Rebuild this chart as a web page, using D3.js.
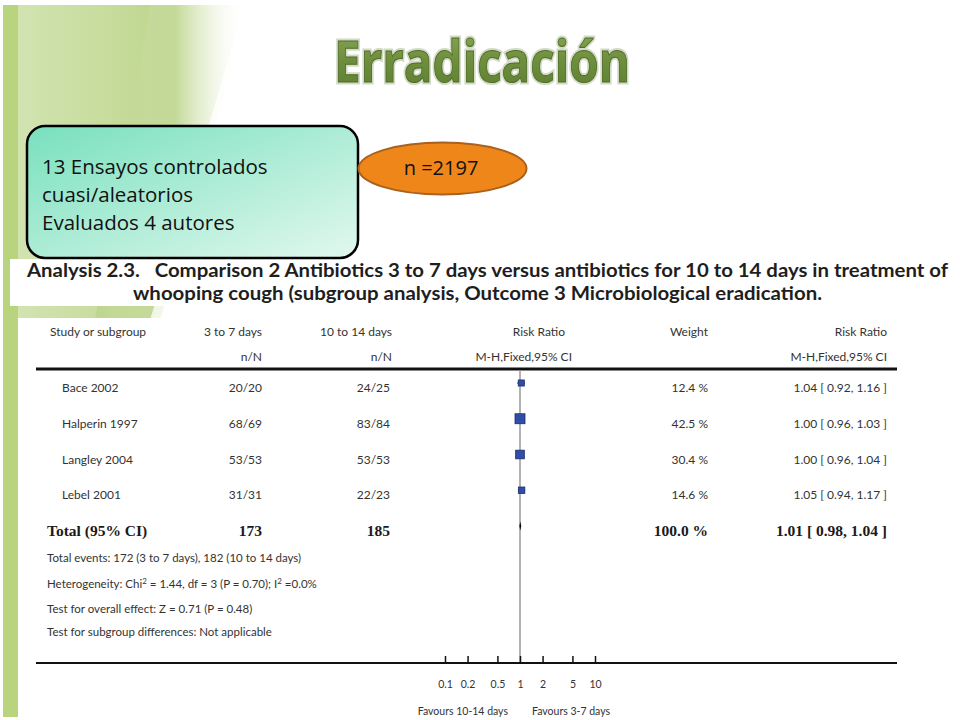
<!DOCTYPE html>
<html><head><meta charset="utf-8">
<script src="https://cdn.jsdelivr.net/npm/d3@7"></script>
<style>body{margin:0;background:#fff}svg{display:block}</style>
</head><body>
<svg id="c" width="960" height="720"></svg>
<script>
// ---- data ----
const studies = ["Bace 2002", "Halperin 1997", "Langley 2004", "Lebel 2001"];
const events37 = ["20/20", "68/69", "53/53", "31/31"];
const events1014 = ["24/25", "83/84", "53/53", "22/23"];
const weights = [12.4, 42.5, 30.4, 14.6];
const rr = [1.04, 1.00, 1.00, 1.05];
const rrLo = [0.92, 0.96, 0.96, 0.94];
const rrHi = [1.16, 1.03, 1.04, 1.17];
const totalN = ["173", "185"];
const totalWeight = 100.0;
const totalRR = [1.01, 0.98, 1.04];
const tickValues = [0.1, 0.2, 0.5, 1, 2, 5, 10];
const footnotes = [
  "Total events: 172 (3 to 7 days), 182 (10 to 14 days)",
  "HET",
  "Test for overall effect: Z = 0.71 (P = 0.48)",
  "Test for subgroup differences: Not applicable"
];
const boxLines = ["13 Ensayos controlados", "cuasi/aleatorios", "Evaluados 4 autores"];

const svg = d3.select("#c");
const defs = svg.append("defs");

// gradients
const g1 = defs.append("linearGradient").attr("id","deco").attr("x1","0").attr("x2","1").attr("y1","0").attr("y2","0");
g1.append("stop").attr("offset","0").attr("stop-color","#d3e4b2");
g1.append("stop").attr("offset","0.45").attr("stop-color","#c6db9b");
g1.append("stop").attr("offset","0.7").attr("stop-color","#bcd48a");
g1.append("stop").attr("offset","1").attr("stop-color","#ffffff").attr("stop-opacity","0");
const g2 = defs.append("linearGradient").attr("id","boxg").attr("x1","0").attr("x2","1").attr("y1","0").attr("y2","1");
g2.append("stop").attr("offset","0").attr("stop-color","#78e0bd");
g2.append("stop").attr("offset","1").attr("stop-color","#e2f8ef");
const g3 = defs.append("linearGradient").attr("id","titleg").attr("x1","0").attr("x2","0").attr("y1","0").attr("y2","1");
g3.append("stop").attr("offset","0").attr("stop-color","#8fae5c");
g3.append("stop").attr("offset","0.5").attr("stop-color","#6f8f3f");
g3.append("stop").attr("offset","1").attr("stop-color","#5b7a2e");
const g4 = defs.append("linearGradient").attr("id","band").attr("x1","0").attr("x2","1").attr("y1","0").attr("y2","0");
g4.append("stop").attr("offset","0").attr("stop-color","#b3ce7c").attr("stop-opacity","0.5");
g4.append("stop").attr("offset","1").attr("stop-color","#ffffff").attr("stop-opacity","0");

// background decorations
svg.append("polygon").attr("points","10,5 245,5 150,320 10,320").attr("fill","url(#deco)");
svg.append("polygon").attr("points","150,5 250,5 160,320 95,320").attr("fill","url(#band)");
svg.append("rect").attr("x",3).attr("y",5).attr("width",15).attr("height",712).attr("fill","#b9d47f");

// Title
const title = svg.append("g");
title.append("text").attr("x",482).attr("y",82).attr("text-anchor","middle")
  .attr("font-family","Open Sans").attr("font-weight","bold").attr("font-size",58)
  .attr("textLength",296).attr("lengthAdjust","spacingAndGlyphs")
  .attr("fill","none").attr("stroke","#d3dac8").attr("stroke-width",5).text("Erradicación");
title.append("text").attr("x",482).attr("y",82).attr("text-anchor","middle")
  .attr("font-family","Open Sans").attr("font-weight","bold").attr("font-size",58)
  .attr("textLength",296).attr("lengthAdjust","spacingAndGlyphs")
  .attr("fill","url(#titleg)").attr("stroke","#4f6d24").attr("stroke-width",1).text("Erradicación");

// analysis title white box
svg.append("rect").attr("x",10).attr("y",259).attr("width",950).attr("height",47).attr("fill","#fff");
// forest panel
svg.append("rect").attr("x",18).attr("y",318).attr("width",942).attr("height",402).attr("fill","#fff");

// Info box
svg.append("rect").attr("x",27).attr("y",126).attr("width",331).attr("height",132).attr("rx",18)
  .attr("fill","url(#boxg)").attr("stroke","#000").attr("stroke-width",2.5);
svg.append("g").selectAll("text").data(boxLines).join("text")
  .attr("x",42).attr("y",(d,i)=>174 + i*28)
  .attr("font-family","Open Sans").attr("font-size",20.5).attr("fill","#111").text(d=>d);

// ellipse
svg.append("ellipse").attr("cx",442.5).attr("cy",168.5).attr("rx",84).attr("ry",26)
  .attr("fill","#ef861a").attr("stroke","#a9611f").attr("stroke-width",2);
svg.append("text").attr("x",441).attr("y",175).attr("text-anchor","middle")
  .attr("font-family","Open Sans").attr("font-size",20).attr("fill","#111").text("n =2197");

// Analysis title
svg.append("text").attr("x",27).attr("y",277).attr("font-family","Lato").attr("font-weight","bold")
  .attr("font-size",18.5).attr("fill","#1e1e1e").attr("textLength",921).attr("lengthAdjust","spacingAndGlyphs")
  .attr("xml:space","preserve")
  .text("Analysis 2.3.   Comparison 2 Antibiotics 3 to 7 days versus antibiotics for 10 to 14 days in treatment of");
svg.append("text").attr("x",133).attr("y",300).attr("font-family","Lato").attr("font-weight","bold")
  .attr("font-size",18.5).attr("fill","#1e1e1e").attr("textLength",689).attr("lengthAdjust","spacingAndGlyphs")
  .text("whooping cough (subgroup analysis, Outcome 3 Microbiological eradication.");

// ---- forest plot ----
const x = d3.scaleLog().domain([0.1, 10]).range([445, 595]);
const yRow = d3.scalePoint().domain(d3.range(5)).range([388, 531]);
const font = "Lato";
const txt = (sel) => sel.attr("font-family", font).attr("font-size", 12).attr("fill", "#333");

// headers
const hdr = [
  ["Study or subgroup", 50, 332, "start"], ["3 to 7 days", 262, 332, "end"], ["10 to 14 days", 392, 332, "end"],
  ["Risk Ratio", 565, 332, "end"], ["Weight", 708, 332, "end"], ["Risk Ratio", 887, 332, "end"],
  ["n/N", 262, 357, "end"], ["n/N", 392, 357, "end"], ["M-H,Fixed,95% CI", 572, 357, "end"], ["M-H,Fixed,95% CI", 887, 357, "end"]
];
svg.append("g").selectAll("text").data(hdr).join("text").call(txt)
  .attr("x", d => d[1]).attr("y", d => d[2] + 4).attr("text-anchor", d => d[3]).text(d => d[0]);

svg.append("line").attr("x1",36).attr("x2",897).attr("y1",369).attr("y2",369).attr("stroke","#111").attr("stroke-width",3);

// vertical line of no effect
svg.append("line").attr("x1",x(1)).attr("x2",x(1)).attr("y1",370).attr("y2",663).attr("stroke","#9a9a9a").attr("stroke-width",1.5);

const fmt2 = d3.format(".2f");
const side = w => 1.3*Math.sqrt(w) + 1.5;
const rows = svg.append("g").selectAll("g").data(studies).join("g");
rows.append("text").call(txt).attr("x",62).attr("y",(d,i)=>yRow(i)+4).text(d=>d);
rows.append("text").call(txt).attr("x",262).attr("y",(d,i)=>yRow(i)+4).attr("text-anchor","end").text((d,i)=>events37[i]);
rows.append("text").call(txt).attr("x",390).attr("y",(d,i)=>yRow(i)+4).attr("text-anchor","end").text((d,i)=>events1014[i]);
rows.append("text").call(txt).attr("x",708).attr("y",(d,i)=>yRow(i)+4).attr("text-anchor","end").text((d,i)=>weights[i].toFixed(1)+" %");
rows.append("text").call(txt).attr("x",887).attr("y",(d,i)=>yRow(i)+4).attr("text-anchor","end")
  .text((d,i)=>`${fmt2(rr[i])} [ ${fmt2(rrLo[i])}, ${fmt2(rrHi[i])} ]`);
rows.append("line").attr("x1",(d,i)=>x(rrLo[i])).attr("x2",(d,i)=>x(rrHi[i]))
  .attr("y1",(d,i)=>yRow(i)-5).attr("y2",(d,i)=>yRow(i)-5).attr("stroke","#1b2b6e").attr("stroke-width",1.3);
rows.append("rect")
  .attr("x",(d,i)=>x(rr[i]) - side(weights[i])/2)
  .attr("y",(d,i)=>yRow(i) - 5 - side(weights[i])/2)
  .attr("width",(d,i)=>side(weights[i]))
  .attr("height",(d,i)=>side(weights[i]))
  .attr("fill","#2f4ea6").attr("stroke","#1b2b6e").attr("stroke-width",0.8);

// total row
const ty = yRow(4);
const bold = (sel) => sel.attr("font-family","Liberation Serif").attr("font-weight","bold").attr("font-size",15.5).attr("fill","#1a1a1a");
svg.append("text").call(bold).attr("x",47).attr("y",ty+5).text("Total (95% CI)");
svg.append("text").call(bold).attr("x",262).attr("y",ty+5).attr("text-anchor","end").text(totalN[0]);
svg.append("text").call(bold).attr("x",390).attr("y",ty+5).attr("text-anchor","end").text(totalN[1]);
svg.append("text").call(bold).attr("x",708).attr("y",ty+5).attr("text-anchor","end").text(totalWeight.toFixed(1)+" %");
svg.append("text").call(bold).attr("x",887).attr("y",ty+5).attr("text-anchor","end")
  .text(`${fmt2(totalRR[0])} [ ${fmt2(totalRR[1])}, ${fmt2(totalRR[2])} ]`);
const dy = ty - 5;
svg.append("polygon")
  .attr("points", [[x(totalRR[1]),dy],[x(totalRR[0]),dy-4.5],[x(totalRR[2]),dy],[x(totalRR[0]),dy+4.5]].map(p=>p.join(",")).join(" "))
  .attr("fill","#111");

// footnotes
const fy = [558, 584, 609, 632];
const fn = svg.append("g");
footnotes.forEach((t,i)=>{
  const el = fn.append("text").attr("x",47).attr("y",fy[i]+4).attr("font-family",font).attr("font-size",11.5).attr("fill","#333");
  if (t === "HET") {
    el.append("tspan").text("Heterogeneity: Chi");
    el.append("tspan").attr("font-size",8).attr("dy",-4).text("2");
    el.append("tspan").attr("dy",4).text(" = 1.44, df = 3 (P = 0.70); I");
    el.append("tspan").attr("font-size",8).attr("dy",-4).text("2");
    el.append("tspan").attr("dy",4).text(" =0.0%");
  } else el.text(t);
});

// axis
svg.append("line").attr("x1",36).attr("x2",897).attr("y1",663).attr("y2",663).attr("stroke","#111").attr("stroke-width",2);
const axis = d3.axisBottom(x).tickValues(tickValues).tickSize(-7).tickPadding(18).tickFormat(d=>String(d));
const ag = svg.append("g").attr("transform","translate(0,663)").call(axis);
ag.select(".domain").remove();
ag.selectAll(".tick line").attr("stroke","#111").attr("stroke-width",1.5);
ag.selectAll(".tick text").attr("font-family",font).attr("font-size",10.5).attr("fill","#333");
svg.append("text").attr("x",508).attr("y",715).attr("text-anchor","end").attr("font-family",font).attr("font-size",10.5).attr("fill","#333").text("Favours 10-14 days");
svg.append("text").attr("x",532).attr("y",715).attr("font-family",font).attr("font-size",10.5).attr("fill","#333").text("Favours 3-7 days");
</script>
</body></html>
